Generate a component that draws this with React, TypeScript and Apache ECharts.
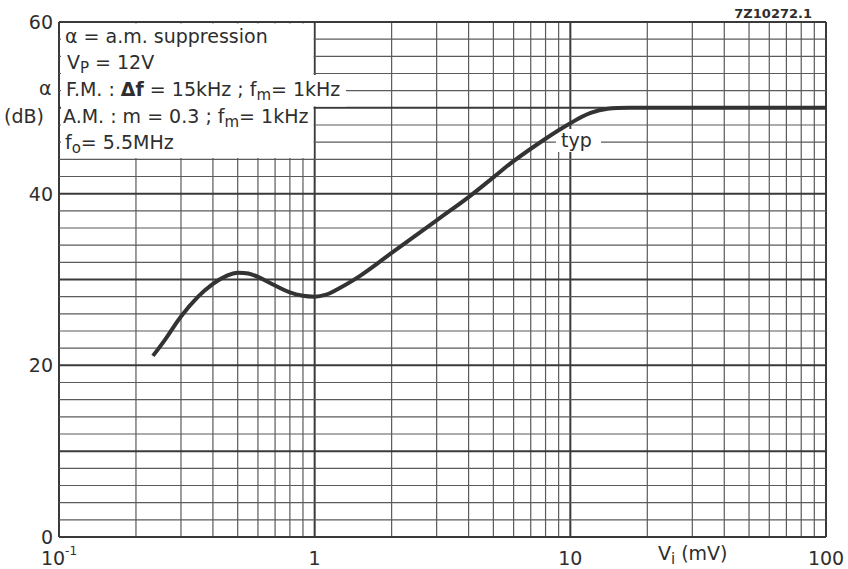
import React, { useEffect, useRef } from 'react';
import * as echarts from 'echarts';

// Curve: a.m. suppression (dB) vs input voltage Vi (mV)
const curveVi = [0.233, 0.26, 0.3, 0.35, 0.4, 0.45, 0.5, 0.55, 0.6, 0.7, 0.8, 0.9, 1.0, 1.1, 1.2, 1.5, 2.0, 3.0, 4.0, 5.0, 6.0, 8.0, 10, 12, 14, 17, 25, 50, 100];
const curveDb = [21.1, 23.0, 25.7, 28.0, 29.5, 30.4, 30.8, 30.7, 30.3, 29.3, 28.5, 28.1, 28.0, 28.2, 28.7, 30.4, 33.1, 36.9, 39.6, 41.9, 43.8, 46.4, 48.2, 49.4, 49.9, 50.0, 50.0, 50.0, 50.0];

// Grid lines of the log-lin paper
const xGridValues = [0.1, 0.2, 0.3, 0.4, 0.5, 0.6, 0.7, 0.8, 0.9, 1, 2, 3, 4, 5, 6, 7, 8, 9, 10, 20, 30, 40, 50, 60, 70, 80, 90, 100];
const yGridValues = [0, 2, 4, 6, 8, 10, 12, 14, 16, 18, 20, 22, 24, 26, 28, 30, 32, 34, 36, 38, 40, 42, 44, 46, 48, 50, 52, 54, 56, 58, 60];
const xMajor = [0.1, 1, 10, 100];
const yMajor = [0, 10, 20, 30, 40, 50, 60];

const X_MIN = 0.1;
const X_MAX = 100;
const Y_MIN = 0;
const Y_MAX = 60;
const Y_TICK = 20;

const INK = '#2e2e2e';
const GRID = '#5a5a5a';
const FONT = 'DejaVu Sans';

export default function App() {
  const ref = useRef<HTMLDivElement>(null);

  useEffect(() => {
    if (!ref.current) return;
    const chart = echarts.init(ref.current, undefined, { renderer: 'svg' });

    const isMajorX = (v: number) => xMajor.some((m) => Math.abs(m - v) < 1e-9);
    const isMajorY = (v: number) => yMajor.includes(v);

    const textRich = {
      n: { fontSize: 19, fontFamily: FONT, color: INK, lineHeight: 26, verticalAlign: 'middle' },
      b: { fontSize: 19, fontFamily: FONT, color: INK, fontWeight: 'bold', lineHeight: 26, verticalAlign: 'middle' },
      s: { fontSize: 15, fontFamily: FONT, color: INK, lineHeight: 15, verticalAlign: 'bottom' },
    };

    const mkText = (x: number, y: number, text: string, extra: any = {}) => ({
      type: 'text',
      x,
      y,
      z: 20,
      style: {
        text,
        rich: textRich,
        verticalAlign: 'middle',
        align: 'left',
        fill: INK,
        ...extra,
      },
    });

    chart.setOption({
      animation: false,
      backgroundColor: '#ffffff',
      grid: { left: 59, right: 22, top: 22, bottom: 32, containLabel: false },
      xAxis: {
        type: 'log',
        logBase: 10,
        min: X_MIN,
        max: X_MAX,
        axisLine: { show: false },
        axisTick: { show: false },
        splitLine: { show: false },
        axisLabel: {
          margin: 8,
          color: INK,
          fontFamily: FONT,
          fontSize: 19,
          formatter: (v: number) => (Math.abs(v - 0.1) < 1e-9 ? '{b|10}{sup|-1}' : '{b|' + String(v) + '}'),
          rich: {
            b: { fontSize: 19, fontFamily: FONT, color: INK, lineHeight: 22, verticalAlign: 'bottom' },
            sup: { fontSize: 12, fontFamily: FONT, color: INK, lineHeight: 22, verticalAlign: 'top' },
          },
        },
      },
      yAxis: {
        type: 'value',
        min: Y_MIN,
        max: Y_MAX,
        interval: Y_TICK,
        axisLine: { show: false },
        axisTick: { show: false },
        splitLine: { show: false },
        axisLabel: { margin: 6, color: INK, fontFamily: FONT, fontSize: 19 },
      },
      series: [
        {
          type: 'custom',
          z: 1,
          silent: true,
          data: xGridValues.map((v) => [v, Y_MIN]),
          renderItem: (params: any, api: any) => {
            const x = api.value(0);
            const p1 = api.coord([x, Y_MIN]);
            const p2 = api.coord([x, Y_MAX]);
            const major = isMajorX(x);
            return {
              type: 'line',
              shape: { x1: p1[0], y1: p1[1], x2: p2[0], y2: p2[1] },
              style: { stroke: major ? '#3a3a3a' : GRID, lineWidth: major ? 2 : 1.2 },
            };
          },
        },
        {
          type: 'custom',
          z: 1,
          silent: true,
          data: yGridValues.map((v) => [X_MIN, v]),
          renderItem: (params: any, api: any) => {
            const y = api.value(1);
            const p1 = api.coord([X_MIN, y]);
            const p2 = api.coord([X_MAX, y]);
            const major = isMajorY(y);
            return {
              type: 'line',
              shape: { x1: p1[0], y1: p1[1], x2: p2[0], y2: p2[1] },
              style: { stroke: major ? '#3a3a3a' : GRID, lineWidth: major ? 2 : 1.2 },
            };
          },
        },
        {
          type: 'line',
          z: 30,
          smooth: 0.4,
          showSymbol: false,
          symbol: 'none',
          lineStyle: { color: '#333333', width: 4 },
          data: curveVi.map((v, i) => [v, curveDb[i]]),
        },
      ],
      graphic: [
        // legend box (white) over the grid
        { type: 'rect', z: 10, shape: { x: 61, y: 23.5, width: 252.5, height: 134.5 }, style: { fill: '#ffffff' } },
        { type: 'rect', z: 10, shape: { x: 312, y: 75, width: 34, height: 31.5 }, style: { fill: '#ffffff' } },
        // typ label patch
        { type: 'rect', z: 10, shape: { x: 556, y: 129, width: 45, height: 23 }, style: { fill: '#ffffff' } },
        mkText(65, 36, '{n|α = a.m. suppression}'),
        mkText(67, 62, '{n|V}{s|P}{n| = 12V}'),
        mkText(66, 89, '{n|F.M. : }{b|Δf}{n| = 15kHz ; f}{s|m}{n|= 1kHz}'),
        mkText(63, 116, '{n|A.M. : m = 0.3 ; f}{s|m}{n|= 1kHz}'),
        mkText(65, 142, '{n|f}{s|o}{n|= 5.5MHz}'),
        mkText(561, 140, '{n|typ}'),
        mkText(39, 88, '{n|α}'),
        mkText(4, 116, '{n|(dB)}'),
        mkText(658, 553, '{n|V}{s|i}{n| (mV)}'),
        {
          type: 'text',
          x: 812,
          y: 13,
          z: 20,
          style: {
            text: '7Z10272.1',
            align: 'right',
            verticalAlign: 'middle',
            fill: INK,
            fontFamily: FONT,
            fontSize: 13,
            fontWeight: 'bold',
          },
        },
      ],
    });

    return () => chart.dispose();
  }, []);

  return (
    <div
      ref={ref}
      style={{ position: 'fixed', left: 0, top: 0, width: 848, height: 569, background: '#fff' }}
    />
  );
}
